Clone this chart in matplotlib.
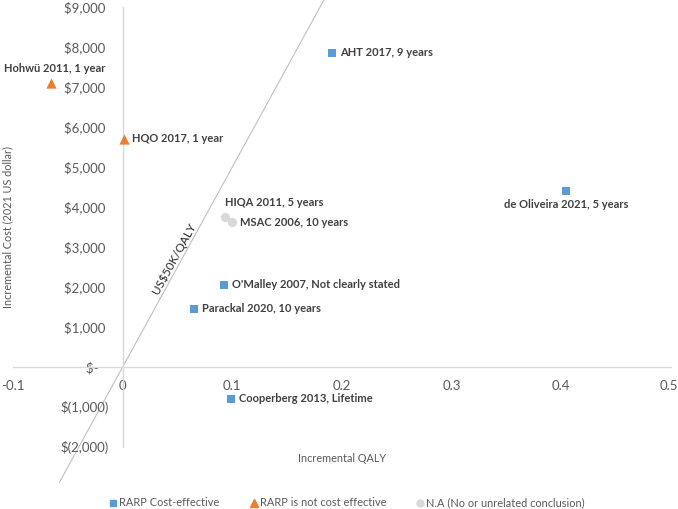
import matplotlib
matplotlib.use("Agg")
import matplotlib.pyplot as plt
from matplotlib.lines import Line2D
from matplotlib.transforms import ScaledTranslation

plt.rcParams['font.family'] = ['Lato', 'DejaVu Sans']

# Data
cost_effective_names = ["AHT 2017, 9 years", "de Oliveira 2021, 5 years", "O'Malley 2007, Not clearly stated",
                        "Parackal 2020, 10 years", "Cooperberg 2013, Lifetime"]
cost_effective_qaly = [0.191, 0.4045, 0.092, 0.0655, 0.099]
cost_effective_cost = [7850, 4400, 2050, 1450, -800]

not_ce_names = ["Hohwü 2011, 1 year", "HQO 2017, 1 year"]
not_ce_qaly = [-0.0655, 0.001]
not_ce_cost = [7100, 5700]

na_names = ["HIQA 2011, 5 years", "MSAC 2006, 10 years"]
na_qaly = [0.0936, 0.100]
na_cost = [3750, 3625]

threshold = 50000  # US$ per QALY
x_ticks = [-0.1, 0, 0.1, 0.2, 0.3, 0.4, 0.5]
x_tick_labels = ["-0.1", "0", "0.1", "0.2", "0.3", "0.4", "0.5"]
y_ticks = [-2000, -1000, 0, 1000, 2000, 3000, 4000, 5000, 6000, 7000, 8000, 9000]
y_tick_labels = ["$(2,000)", "$(1,000)", "$-   ", "$1,000 ", "$2,000 ", "$3,000 ", "$4,000 ",
                 "$5,000 ", "$6,000 ", "$7,000 ", "$8,000 ", "$9,000 "]

BLUE = "#5B9BD5"
ORANGE = "#ED7D31"
GREY = "#D9D9D9"
TXT = "#595959"
LBL = "#404040"

W, H = 678, 509
fig = plt.figure(figsize=(W / 100, H / 100), dpi=100)
ax = fig.add_axes([13 / W, 1 - 447 / H, (671 - 13) / W, (447 - 7) / H])
ax.set_xlim(-0.1, 0.5)
ax.set_ylim(-2000, 9000)

for s in ['top', 'right']:
    ax.spines[s].set_visible(False)
ax.spines['left'].set_position(('data', 0))
ax.spines['bottom'].set_position(('data', 0))
ax.spines['left'].set_color(GREY)
ax.spines['bottom'].set_color(GREY)
ax.spines['left'].set_linewidth(1)
ax.spines['bottom'].set_linewidth(1)
ax.set_xticks(x_ticks)
ax.set_xticklabels(x_tick_labels)
ax.set_yticks(y_ticks)
ax.set_yticklabels(y_tick_labels)
ax.tick_params(length=0, labelsize=9.5, labelcolor=TXT)
ax.tick_params(axis='y', pad=10)
ax.tick_params(axis='x', pad=9)
ax.set_facecolor('none')
last = ax.get_xticklabels()[-1]
last.set_horizontalalignment('right')
last.set_transform(last.get_transform() + ScaledTranslation(7 / 100, 0, fig.dpi_scale_trans))

# Threshold line
xl = [-0.0575, 0.1835]
ax.plot(xl, [threshold * v for v in xl], color="#BFBFBF", lw=0.8, clip_on=False, zorder=1)
ax.text(0.0465, 2700, "US$50K/QALY", rotation=61.2, rotation_mode='anchor', ha='center', va='center',
        fontsize=8.5, color="#262626")

ax.scatter(cost_effective_qaly, cost_effective_cost, marker='s', s=36, color=BLUE, zorder=3, linewidths=0)
ax.scatter(not_ce_qaly, not_ce_cost, marker='^', s=55, color=ORANGE, zorder=3, linewidths=0)
ax.scatter(na_qaly, na_cost, marker='o', s=45, color=GREY, zorder=3, linewidths=0)

LFS = 8

def lab(x, y, t, dx=8, dy=0, ha='left', va='center'):
    ax.annotate(t, (x, y), xytext=(dx, dy), textcoords='offset pixels', ha=ha, va=va,
                fontsize=LFS, fontweight='bold', color=LBL, zorder=4)

for x, y, t in zip(cost_effective_qaly, cost_effective_cost, cost_effective_names):
    if t.startswith("de Oliveira"):
        lab(x, y, t, dx=0, dy=-14, ha='center')
    else:
        lab(x, y, t)
lab(not_ce_qaly[0], not_ce_cost[0], not_ce_names[0], dx=4, dy=15, ha='center')
lab(not_ce_qaly[1], not_ce_cost[1], not_ce_names[1])
lab(na_qaly[0], na_cost[0], na_names[0], dx=0, dy=14, ha='left')
lab(na_qaly[1], na_cost[1], na_names[1])

fig.text(8 / W, 1 - 227 / H, "Incremental Cost (2021 US dollar)", rotation=90, ha='center', va='center',
         fontsize=7.8, color=TXT)
fig.text(342 / W, 1 - 458 / H, "Incremental QALY", ha='center', va='center', fontsize=7.8, color=TXT)

handles = [
    Line2D([], [], marker='s', color=BLUE, ls='none', markersize=5),
    Line2D([], [], marker='^', color=ORANGE, ls='none', markersize=6),
    Line2D([], [], marker='o', color=GREY, ls='none', markersize=5),
]
labels = ["RARP Cost-effective", "RARP is not cost effective", "N.A (No or unrelated conclusion)"]
fig.legend(handles, labels, loc='center', bbox_to_anchor=(347 / W, 1 - 503 / H), ncol=3, frameon=False,
           fontsize=7.9, labelcolor=TXT, handletextpad=0.15, columnspacing=2.7, handlelength=0.8,
           borderpad=0)

fig.savefig("out.png", dpi=100)
